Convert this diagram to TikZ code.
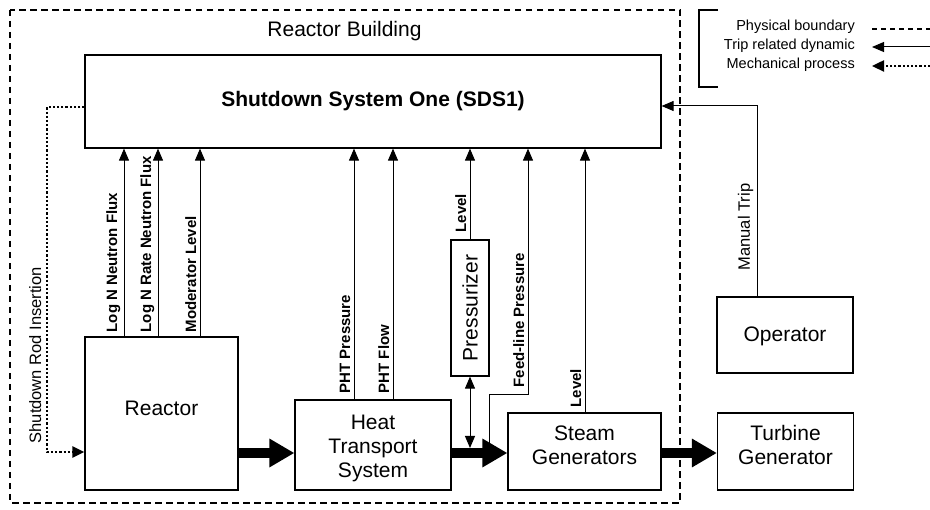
\documentclass[tikz,border=0pt]{standalone}
\usepackage{fontspec}
\setmainfont{Liberation Sans}
\usetikzlibrary{arrows.meta}
\newcommand{\boxlines}[2]{\raisebox{#1}[\height][\depth]{\begin{tabular}{@{}c@{}}#2\end{tabular}}}
\begin{document}
\begin{tikzpicture}[x=1pt,y=-1pt,
  box/.style={draw, line width=1.2pt, inner sep=0pt, align=center, font=\fontsize{21}{23.8}\selectfont},
  sig/.style={line width=1pt, -{Triangle[length=12pt,width=10pt]}},
  dsig/.style={line width=1pt, {Triangle[length=12pt,width=10pt]}-{Triangle[length=12pt,width=10pt]}},
  lab/.style={rotate=90, anchor=south west, inner sep=1.5pt, font=\bfseries\fontsize{15}{18}\selectfont},
  rlab/.style={rotate=90, anchor=south west, inner sep=1.5pt, font=\fontsize{16.5}{19}\selectfont},
  flowarrow/.style={line width=9.5pt, -{Triangle[length=25pt,width=27pt]}},
  dotline/.style={line width=2.4pt, dash pattern=on 2.2pt off 2pt},
  bnd/.style={line width=1.3pt, dash pattern=on 6.5pt off 4.5pt},
  legtext/.style={anchor=east, inner sep=1pt, font=\fontsize{14.5}{16}\selectfont},
]
\useasboundingbox (0,0) rectangle (930,510);

% building boundary
\draw[bnd] (10,10) rectangle (680,503);
\node[font=\fontsize{21}{24}\selectfont] (rb) at (344.5,31) {Reactor Building};

% boxes
\node[box, minimum width=576pt, minimum height=93pt] (sds) at (373,101.5) {\bfseries Shutdown System One (SDS1)};
\node[box, minimum width=153pt, minimum height=153pt, text depth=10pt] (reactor) at (161.5,413.5) {Reactor};
\node[box, minimum width=156pt, minimum height=90pt] (hts) at (373,445) {\boxlines{-4pt}{Heat\\Transport\\System}};
\node[box, minimum width=38pt, minimum height=136pt] (pres) at (470,308) {\rotatebox{90}{Pressurizer}};
\node[box, minimum width=153pt, minimum height=77pt] (sg) at (584.5,451.5) {\boxlines{4pt}{Steam\\Generators}};
\node[box, minimum width=136pt, minimum height=77pt] (tg) at (785.5,451.5) {\boxlines{4pt}{Turbine\\Generator}};
\node[box, minimum width=136pt, minimum height=76pt] (op) at (785,335) {\boxlines{-2pt}{Operator}};

% helper coordinates
\coordinate (flow) at (0,453);
\coordinate (cA) at (124,0);
\coordinate (cB) at (158,0);
\coordinate (cC) at (200,0);
\coordinate (cD) at (354,0);
\coordinate (cE) at (393,0);
\coordinate (cH) at (585,0);
\coordinate (fA) at (489,448);
\coordinate (fB) at (489,395);
\coordinate (fC) at (528,395);
\coordinate (dbl) at (0,448);
\coordinate (mtc) at (757,106);
\coordinate (rodA) at (47,107);
\coordinate (rodB) at (47,452);

% process flow
\draw[flowarrow] (reactor.east |- flow) -- (hts.west |- flow);
\draw[flowarrow] (hts.east |- flow) -- (sg.west |- flow);
\draw[flowarrow] (sg.east |- flow) -- (tg.west |- flow);

% trip signals
\draw[sig] (reactor.north -| cA) -- (sds.south -| cA);
\draw[sig] (reactor.north -| cB) -- (sds.south -| cB);
\draw[sig] (reactor.north -| cC) -- (sds.south -| cC);
\draw[sig] (hts.north -| cD) -- (sds.south -| cD);
\draw[sig] (hts.north -| cE) -- (sds.south -| cE);
\draw[sig] (pres.north) -- (sds.south -| pres.north);
\draw[sig] (fA) -- (fB) -- (fC) -- (sds.south -| fC);
\draw[sig] (sg.north -| cH) -- (sds.south -| cH);
\draw[dsig] (pres.south) -- (pres.south |- dbl);
\draw[sig] (op.north -| mtc) -- (mtc) -- (sds.east |- mtc);

% shutdown rods
\draw[dotline, -{Triangle[length=12pt,width=11pt]}] (sds.west |- rodA) -- (rodA) -- (rodB) -- (reactor.west |- rodB);

% labels
\node[lab] (t1) at (122,334) {Log N Neutron Flux};
\node[lab] (t2) at (156,334) {Log N Rate Neutron Flux};
\node[lab] (t3) at (198,334) {Moderator Level};
\node[lab] (t4) at (352,395) {PHT Pressure};
\node[lab] (t5) at (391,395) {PHT Flow};
\node[lab] (t6) at (468,234) {Level};
\node[lab] (t7) at (526,389) {Feed-line Pressure};
\node[lab] (t8) at (583,409) {Level};
\node[rlab] (t9) at (755,272) {Manual Trip};
\node[rlab] (t10) at (43,445) {Shutdown Rod Insertion};

% legend
\draw[line width=1.2pt] (718,10) -- (699,10) -- (699,87) -- (718,87);
\node[legtext] (l1) at (856,27) {Physical boundary};
\node[legtext] (l2) at (856,46) {Trip related dynamic};
\node[legtext] (l3) at (856,65) {Mechanical process};
\coordinate (e1) at (930,29);
\coordinate (e2) at (930,47);
\coordinate (e3) at (930,66);
\draw[line width=1.2pt, dash pattern=on 5pt off 4pt] ([xshift=16pt]l1.east |- e1) -- (e1);
\draw[sig] (e2) -- ([xshift=16pt]l2.east |- e2);
\draw[dotline, -{Triangle[length=12pt,width=11pt]}] (e3) -- ([xshift=16pt]l3.east |- e3);
\end{tikzpicture}
\end{document}
